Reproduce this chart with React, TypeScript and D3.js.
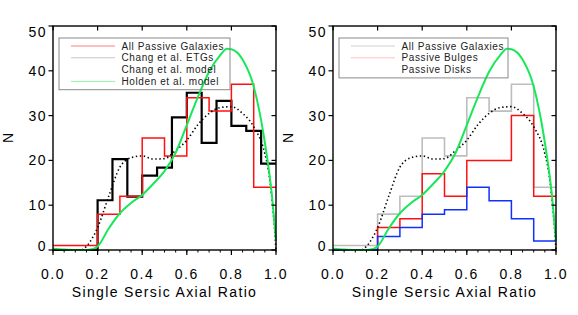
import React from 'react';
import * as d3 from 'd3';

// histogram bins of width 0.1 (0.0 .. 1.0)
const BIN_EDGES = [0, 0.1, 0.2, 0.3, 0.4, 0.5, 0.6, 0.7, 0.8, 0.9, 1.0];
const ALL_PASSIVE = [1, 1, 8, 12, 25, 21, 34, 31, 37, 14];
const PASSIVE_BULGES = [0, 0, 5, 7, 17, 12, 20, 20, 30, 12];
const PASSIVE_DISKS = [0, 0, 3, 5, 8, 9, 14, 11, 7, 2];

// Chang et al. ETGs, bins of width 1/15
const CHANG_EDGES = d3.range(16).map((i) => i / 15);
const CHANG_ETGS = [0, 0, 0, 11.1, 20.3, 11.9, 16.6, 18.4, 29.6, 35.1, 23.9, 33.3, 27.7, 26.6, 19.3];

// Chang et al. model (dotted)
const CHANG_MODEL_X = [0.13, 0.15, 0.2, 0.25, 0.3, 0.35, 0.4, 0.45, 0.5, 0.55, 0.6, 0.65, 0.7, 0.75, 0.8, 0.85, 0.9, 0.95, 0.97, 0.99, 1.0];
const CHANG_MODEL_Y = [0, 0.8, 5, 12, 18.5, 20.6, 21, 20.3, 20.4, 22.2, 24.5, 28, 30.5, 31.8, 32, 30.5, 27.5, 21.5, 16.5, 7, 0];

// Holden et al. model (green)
const HOLDEN_X = [0, 0.05, 0.1, 0.15, 0.17, 0.2, 0.25, 0.3, 0.35, 0.4, 0.45, 0.5, 0.55, 0.6, 0.65, 0.7, 0.75, 0.78, 0.8, 0.85, 0.9, 0.95, 0.98, 1.0];
const HOLDEN_Y = [0.3, 0.1, 0, 0, 0.1, 0.8, 4.8, 8.2, 10.5, 12.3, 14.8, 17.6, 21.7, 27.9, 34.2, 39.8, 43.5, 44.9, 44.8, 42.5, 36.5, 24, 13, 2];

const X_TICKS = [0, 0.2, 0.4, 0.6, 0.8, 1.0];
const Y_TICKS = [0, 10, 20, 30, 40, 50];
const X_LABEL = 'Single Sersic Axial Ratio';
const Y_LABEL = 'N';

const LEFT_LEGEND = [
    { label: 'All Passive Galaxies', color: '#ff8080' },
    { label: 'Chang et al. ETGs', color: '#c8c8c8' },
    { label: 'Chang et al. model', color: null },
    { label: 'Holden et al. model', color: '#90f0a8' },
];
const RIGHT_LEGEND = [
    { label: 'All Passive Galaxies', color: '#d0d0d0' },
    { label: 'Passive Bulges', color: '#ffc0c0' },
    { label: 'Passive Disks', color: null },
];

const RED = '#ff1010';
const GREEN = '#18e858';
const BLUE = '#1030ff';
const GRAY = '#bdbdbd';
const FONT = '"Liberation Sans", Arial, Helvetica, sans-serif';

const top = 26;
const bottom = 250;
const plotW = 223;

function stepPoints(edges, values)
{
    const pts = values.map((v, i) => [edges[i], v]);
    pts.push([edges[edges.length - 1], values[values.length - 1]]);
    return pts;
}

function Panel({ left, histograms, legend, legendWidth })
{
    const x = d3.scaleLinear().domain([0, 1]).range([left, left + plotW]);
    const y = d3.scaleLinear().domain([0, 50]).range([bottom, top]);

    const stepLine = d3.line().curve(d3.curveStepAfter).x((d) => x(d[0])).y((d) => y(d[1]));
    const smoothLine = d3.line().curve(d3.curveMonotoneX).x((d) => x(d[0])).y((d) => y(d[1]));

    const chang = CHANG_MODEL_X.map((v, i) => [v, CHANG_MODEL_Y[i]]);
    const holden = HOLDEN_X.map((v, i) => [v, HOLDEN_Y[i]]);
    const minor = d3.range(0, 1.0001, 0.05);

    const legX = left + 6;
    const legY = 38;
    const rowH = 11.8;

    return (
        <g>
            {histograms.map((h, i) => (
                <path key={i} d={stepLine(stepPoints(h.edges, h.values))} fill="none"
                    stroke={h.color} strokeWidth={h.width} />
            ))}
            <path d={smoothLine(chang)} fill="none" stroke="#000" strokeWidth={1.6}
                strokeDasharray="1.4,2.6" />
            <path d={smoothLine(holden)} fill="none" stroke={GREEN} strokeWidth={2} />

            {/* legend */}
            <rect x={legX} y={legY} width={legendWidth} height={legend.length * rowH + 4.5}
                fill="none" stroke="#8a8a8a" strokeWidth={1} />
            {legend.map((l, i) => (
                <g key={l.label}>
                    {l.color && (
                        <line x1={legX + 12} x2={legX + 56} y1={legY + 8 + i * rowH}
                            y2={legY + 8 + i * rowH} stroke={l.color} strokeWidth={1} />
                    )}
                    <text x={legX + 62.5} y={legY + 11.5 + i * rowH} fontSize={10}
                        letterSpacing={0.6} fill="#222" fontFamily={FONT}>{l.label}</text>
                </g>
            ))}

            {/* frame */}
            <rect x={left} y={top} width={plotW} height={bottom - top} fill="none"
                stroke="#000" strokeWidth={1.4} />

            {X_TICKS.map((t) => (
                <g key={'x' + t}>
                    <line x1={x(t)} x2={x(t)} y1={bottom} y2={bottom + 5} stroke="#000" strokeWidth={1.2} />
                    <line x1={x(t)} x2={x(t)} y1={top} y2={top + 4.5} stroke="#000" strokeWidth={1.2} />
                    <text x={x(t)} y={278.5} textAnchor="middle" fontSize={14} letterSpacing={1.5}
                        fontFamily={FONT}>{t.toFixed(1)}</text>
                </g>
            ))}
            {minor.map((t, i) => (
                <line key={'m' + i} x1={x(t)} x2={x(t)} y1={bottom} y2={bottom + 2.5}
                    stroke="#000" strokeWidth={1} />
            ))}
            {Y_TICKS.map((t) => (
                <g key={'y' + t}>
                    <line x1={left - 4.5} x2={left} y1={y(t)} y2={y(t)} stroke="#000" strokeWidth={1.2} />
                    <line x1={left + plotW - 4.5} x2={left + plotW} y1={y(t)} y2={y(t)} stroke="#000" strokeWidth={1.2} />
                    <text x={left - 6} y={y(t) + 5 + (t === 0 ? -4 : 0) + (t === 50 ? 6 : 0)}
                        textAnchor="end" fontSize={14} letterSpacing={1.5} fontFamily={FONT}>{t}</text>
                </g>
            ))}
            <text x={left + plotW / 2} y={297} textAnchor="middle" fontSize={14} letterSpacing={1.35}
                fontFamily={FONT}>{X_LABEL}</text>
            <text transform={`translate(${ left - 40 },138) rotate(-90)`} textAnchor="middle"
                fontSize={14} fontFamily={FONT}>{Y_LABEL}</text>
        </g>
    );
}

export default function App()
{
    return (
        <svg width={578} height={315} style={{ position: 'absolute', left: 0, top: 0, background: '#fff' }}>
            <Panel left={53} legendWidth={171}
                legend={LEFT_LEGEND}
                histograms={[
                    { edges: CHANG_EDGES, values: CHANG_ETGS, color: '#000', width: 2.2 },
                    { edges: BIN_EDGES, values: ALL_PASSIVE, color: RED, width: 1.5 },
                ]} />
            <Panel left={333} legendWidth={169}
                legend={RIGHT_LEGEND}
                histograms={[
                    { edges: BIN_EDGES, values: ALL_PASSIVE, color: GRAY, width: 1.6 },
                    { edges: BIN_EDGES, values: PASSIVE_BULGES, color: RED, width: 1.5 },
                    { edges: BIN_EDGES, values: PASSIVE_DISKS, color: BLUE, width: 1.5 },
                ]} />
        </svg>
    );
}
